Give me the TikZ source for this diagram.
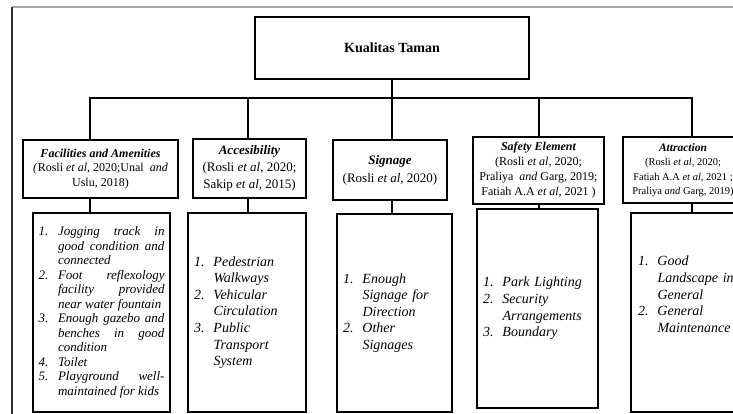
\documentclass[tikz,border=0pt]{standalone}
\usepackage{fontspec}
\setmainfont{Liberation Serif}
\tikzset{
  headbox/.style={draw, line width=1.6pt, align=center, inner sep=0pt},
  listbox/.style={draw, line width=1.6pt, inner sep=0pt},
  link/.style={line width=1.6pt},
}
% one numbered item with hanging indent
\newcommand{\itm}[2]{\hangindent=19.5pt\hangafter=1\noindent\makebox[19.5pt][l]{#1.}#2\par}
\begin{document}
\begin{tikzpicture}[x=1pt,y=-1pt]
\useasboundingbox (0,0) rectangle (733,413);
\clip (0,0) rectangle (733,413);
% outer frame
\draw[gray!70, line width=1.3pt] (12,7) -- (740,7);
\draw[black!80, line width=1.3pt] (12,7) -- (12,420);
% main box
\node[headbox, minimum width=274, minimum height=62, font=\fontsize{14}{16}\selectfont\bfseries] (top) at (392,48) {Kualitas Taman};
% criteria boxes
\node[headbox, minimum width=155, minimum height=58, font=\fontsize{12}{14.5}\selectfont] (h1) at (100.5,169)
  {{\bfseries\itshape Facilities and Amenities}\\\textit{(}Rosli \textit{et al}, 2020;Unal~~\textit{and}\\Uslu, 2018)};
\node[headbox, minimum width=113, minimum height=59, font=\fontsize{13}{17}\selectfont] (h2) at (249.5,168.5)
  {{\bfseries\itshape Accesibility}\\(Rosli \textit{et al}, 2020;\\Sakip \textit{et al}, 2015)};
\node[headbox, minimum width=114, minimum height=60, font=\fontsize{13}{18}\selectfont] (h3) at (390,170)
  {{\bfseries\itshape Signage}\\(Rosli \textit{et al}, 2020)};
\node[headbox, minimum width=131, minimum height=67, font=\fontsize{12}{15}\selectfont] (h4) at (538.5,170.5)
  {{\bfseries\itshape Safety Element}\\(Rosli \textit{et al}, 2020;\\Praliya~~\textit{and} Garg, 2019;\\Fatiah A.A \textit{et al}, 2021 )};
\node[headbox, minimum width=120, minimum height=66, font=\fontsize{10.5}{14.3}\selectfont] (h5) at (683,170)
  {{\fontsize{11.5}{14.3}\selectfont\bfseries\itshape Attraction}\\(Rosli \textit{et al}, 2020;\\Fatiah A.A \textit{et al}, 2021 ;\\Praliya \textit{and} Garg, 2019)};
% item boxes
\node[listbox, minimum width=137, minimum height=199, text width=126, align=justify, font=\fontsize{13}{14.5}\selectfont\itshape] (l1) at (101.5,312.5)
  {\itm{1}{Jogging track in\linebreak good condition and\linebreak connected}
   \itm{2}{Foot reflexology\linebreak facility provided\linebreak near water fountain}
   \itm{3}{Enough gazebo and\linebreak benches in good\linebreak condition}
   \itm{4}{Toilet}
   \itm{5}{Playground well-\linebreak maintained for kids}};
\node[listbox, minimum width=118, minimum height=199, text width=106, align=left, font=\fontsize{14}{16.6}\selectfont\itshape] (l2) at (247,312.5)
  {\itm{1}{Pedestrian\newline Walkways}
   \itm{2}{Vehicular\newline Circulation}
   \itm{3}{Public\newline Transport\newline System}};
\node[listbox, minimum width=115, minimum height=198, text width=103, align=left, font=\fontsize{14}{16.6}\selectfont\itshape] (l3) at (394.5,313)
  {\itm{1}{Enough\newline Signage for\newline Direction}
   \itm{2}{Other\newline Signages}};
\node[listbox, minimum width=121, minimum height=199, text width=109, align=left, font=\fontsize{14}{16.6}\selectfont\itshape] (l4) at (537.5,308.5)
  {\itm{1}{Park Lighting}
   \itm{2}{Security\newline Arrangements}
   \itm{3}{Boundary}};
\node[listbox, minimum width=122, minimum height=199, text width=108, align=left, font=\fontsize{14}{16.6}\selectfont\itshape] (l5) at (692,312.5)
  {\itm{1}{Good\newline Landscape in\newline General}
   \itm{2}{General\newline Maintenance}\vspace*{20pt}\noindent\mbox{}};
% connectors
\coordinate (j1) at (90,98);
\coordinate (j2) at (248,98);
\coordinate (j3) at (392,98);
\coordinate (j4) at (539,98);
\coordinate (j5) at (692,98);
\draw[link] (top.south) -- (j3);
\draw[link] (j1 |- h1.north) -- (j1) -- (j5) -- (j5 |- h5.north);
\foreach \i in {2,3,4}
  \draw[link] (j\i) -- (j\i |- h\i.north);
\foreach \i in {1,...,5}
  \draw[link] (j\i |- h\i.south) -- (j\i |- l\i.north);
\end{tikzpicture}
\end{document}
